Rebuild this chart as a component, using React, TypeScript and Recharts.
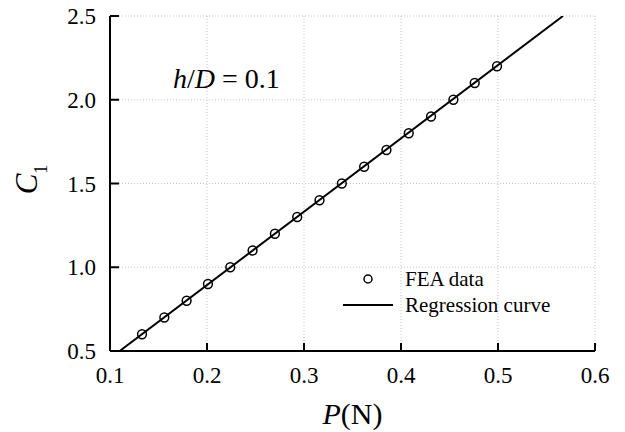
import { ScatterChart, Scatter, XAxis, YAxis, CartesianGrid, Legend, Customized } from "recharts";

// FEA points, h/D = 0.1
const loadP = [0.133, 0.156, 0.179, 0.201, 0.224, 0.247, 0.27, 0.293, 0.316, 0.339, 0.362, 0.385, 0.408, 0.431, 0.454, 0.476, 0.499];
const c1Values = [0.6, 0.7, 0.8, 0.9, 1.0, 1.1, 1.2, 1.3, 1.4, 1.5, 1.6, 1.7, 1.8, 1.9, 2.0, 2.1, 2.2];

// regression line end points
const regP = [0.11, 0.567];
const regC = [0.5, 2.5];

const xTicks = [0.1, 0.2, 0.3, 0.4, 0.5, 0.6];
const yTicks = [0.5, 1.0, 1.5, 2.0, 2.5];

const FONT = "'Liberation Serif', 'Times New Roman', serif";

const feaData = loadP.map((p, i) => ({ p, c: c1Values[i] }));
const regData = regP.map((p, i) => ({ p, c: regC[i] }));

const BottomTick = ({ x, y, payload }: any) => (
  <g>
    <line x1={x} y1={y} x2={x} y2={y - 8} stroke="#000" strokeWidth={2} />
    <text x={x} y={y + 32} textAnchor="middle" fontSize={23} fontFamily={FONT} fill="#000">
      {Number(payload.value).toFixed(1)}
    </text>
  </g>
);

const TopTick = ({ x, y }: any) => (
  <line x1={x} y1={y} x2={x} y2={y + 8} stroke="#000" strokeWidth={2} />
);

const LeftTick = ({ x, y, payload }: any) => (
  <g>
    <line x1={x} y1={y} x2={x + 9} y2={y} stroke="#000" strokeWidth={2} />
    <text x={x - 14} y={y + 8} textAnchor="end" fontSize={23} fontFamily={FONT} fill="#000">
      {Number(payload.value).toFixed(1)}
    </text>
  </g>
);

const RightTick = ({ x, y }: any) => (
  <line x1={x} y1={y} x2={x - 9} y2={y} stroke="#333" strokeWidth={2} />
);

const noShape = () => <g />;

const renderLegend = ({ payload }: any) => (
  <div style={{ fontFamily: FONT, fontSize: 21, lineHeight: "26px", color: "#000" }}>
    {(payload || []).map((entry: any) => (
      <div key={entry.value} style={{ display: "flex", alignItems: "center" }}>
        <svg width={64} height={26}>
          {entry.value === "FEA data" ? (
            <circle cx={27} cy={13} r={4} fill="none" stroke="#000" strokeWidth={1.5} />
          ) : (
            <line x1={2} y1={13} x2={52} y2={13} stroke="#000" strokeWidth={2} />
          )}
        </svg>
        <span>{entry.value}</span>
      </div>
    ))}
  </div>
);

const RatioNote = () => (
  <text x={173} y={88} fontSize={28} fontFamily={FONT} fill="#000">
    <tspan fontStyle="italic">h</tspan>/<tspan fontStyle="italic">D</tspan> = 0.1
  </text>
);

const App = () => {
  return (
    <div style={{ position: "absolute", left: 0, top: 0, width: 625, height: 432, background: "#fff" }}>
      <ScatterChart width={625} height={432} margin={{ top: 16, right: 30, bottom: 21, left: 10 }}>
        <CartesianGrid stroke="#c4c4c4" strokeDasharray="1 2" strokeWidth={1} />
        <XAxis
          dataKey="p"
          type="number"
          domain={[0.1, 0.6]}
          ticks={xTicks}
          allowDataOverflow
          height={60}
          tickSize={0}
          tickMargin={0}
          tickLine={false}
          axisLine={{ stroke: "#000", strokeWidth: 2 }}
          tick={<BottomTick />}
          interval={0}
          label={{
            content: ({ viewBox }: any) => (
              <text
                x={viewBox.x + viewBox.width / 2}
                y={viewBox.y + 73}
                textAnchor="middle"
                fontSize={30}
                fontFamily={FONT}
                fill="#000"
              >
                <tspan fontStyle="italic">P</tspan>(N)
              </text>
            ),
          }}
        />
        <XAxis
          xAxisId="top"
          orientation="top"
          dataKey="p"
          type="number"
          domain={[0.1, 0.6]}
          ticks={xTicks}
          allowDataOverflow
          height={0}
          tickSize={0}
          tickMargin={0}
          tickLine={false}
          axisLine={{ stroke: "#000", strokeWidth: 2 }}
          tick={<TopTick />}
          interval={0}
        />
        <YAxis
          dataKey="c"
          type="number"
          domain={[0.5, 2.5]}
          ticks={yTicks}
          allowDataOverflow
          width={100}
          tickSize={0}
          tickMargin={0}
          tickLine={false}
          axisLine={{ stroke: "#000", strokeWidth: 2 }}
          tick={<LeftTick />}
          interval={0}
          label={{
            content: ({ viewBox }: any) => {
              const lx = viewBox.x + 27;
              const ly = viewBox.y + viewBox.height / 2 - 4;
              return (
                <text
                  x={lx}
                  y={ly}
                  transform={`rotate(-90, ${lx}, ${ly})`}
                  textAnchor="middle"
                  fontSize={31}
                  fontFamily={FONT}
                  fill="#000"
                >
                  <tspan fontStyle="italic">C</tspan>
                  <tspan fontSize={18} dy={10}>1</tspan>
                </text>
              );
            },
          }}
        />
        <YAxis
          yAxisId="right"
          orientation="right"
          dataKey="c"
          type="number"
          domain={[0.5, 2.5]}
          ticks={yTicks}
          allowDataOverflow
          width={0}
          tickSize={0}
          tickMargin={0}
          tickLine={false}
          axisLine={{ stroke: "#333", strokeWidth: 2 }}
          tick={<RightTick />}
          interval={0}
        />
        <Scatter
          name="FEA data"
          data={feaData}
          fill="none"
          stroke="#000"
          strokeWidth={1.5}
          shape={(props: any) => (
            <circle cx={props.cx} cy={props.cy} r={4.4} fill="none" stroke="#000" strokeWidth={1.5} />
          )}
          isAnimationActive={false}
        />
        <Scatter
          name="Regression curve"
          data={regData}
          line={{ stroke: "#000", strokeWidth: 2 }}
          stroke="#000"
          fill="#000"
          shape={noShape}
          isAnimationActive={false}
        />
        <Customized component={RatioNote} />
        <Legend
          layout="vertical"
          align="center"
          verticalAlign="middle"
          content={renderLegend}
          wrapperStyle={{ position: "absolute", left: 341, top: 266, width: 240 }}
        />
      </ScatterChart>
    </div>
  );
};

export default App;
